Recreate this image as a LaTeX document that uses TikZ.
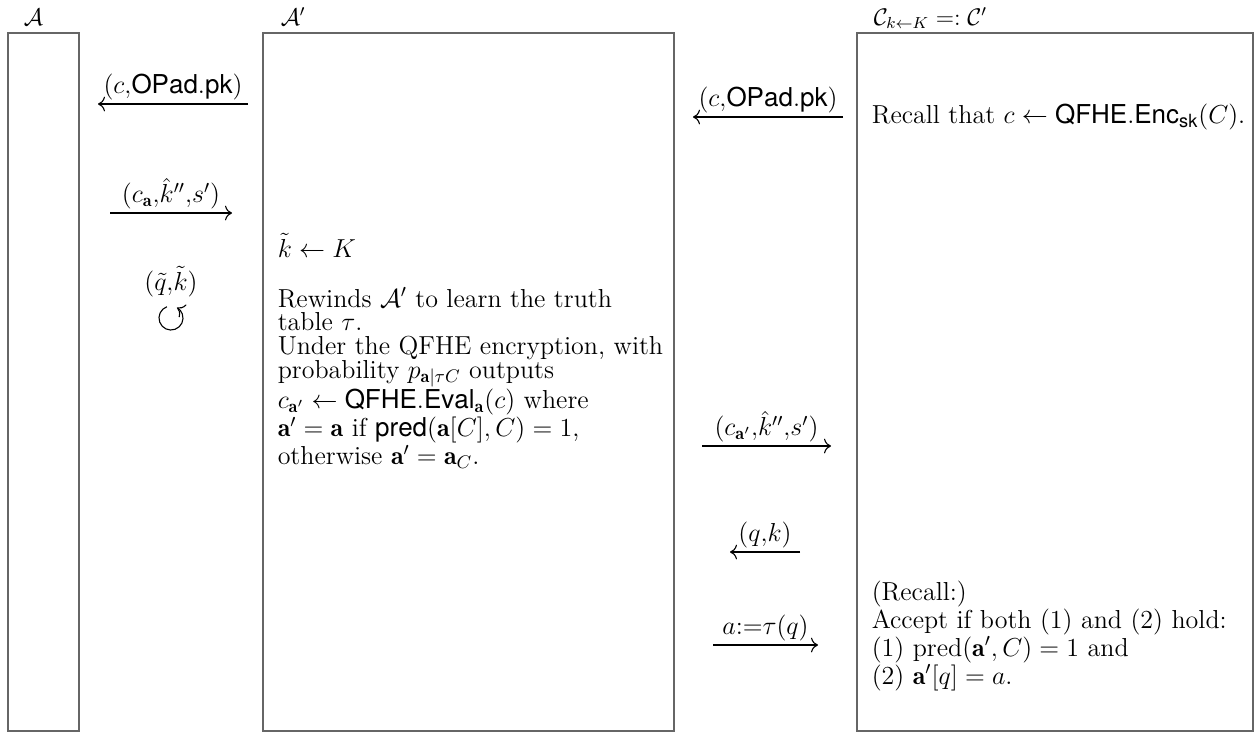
\RequirePackage{fix-cm}
\documentclass[tikz,border=0pt]{standalone}
\usepackage{amsmath,amssymb}
\usepackage{fontspec}
\setsansfont{TeX Gyre Heros}
\usetikzlibrary{arrows.meta}

\tikzset{every picture/.style={line width=0.75pt}}

\begin{document}
\begin{tikzpicture}[x=0.5pt,y=0.5pt,yscale=-1,xscale=1,
    every node/.style={font=\fontsize{13}{11.8}\selectfont},
    party/.style={draw=black!60, line width=0.6pt},
    hdr/.style={anchor=base west, inner sep=0pt, font=\fontsize{12}{12}\selectfont},
    msg/.style={-{Computer Modern Rightarrow[scale=1.25]}, line width=0.55pt},
    lbl/.style={above=0.5pt, inner sep=1pt},
    txt/.style={anchor=north west, inner sep=0pt, align=left}]
        \useasboundingbox (0,0) rectangle (1258,735);

        %Shape: Rectangle [party A]
        \draw [party] (8,33) rectangle (79,731) ;
        %Shape: Rectangle [party A']
        \draw [party] (263,33) rectangle (674,731) ;
        %Shape: Rectangle [party C']
        \draw [party] (857,33) rectangle (1253,731) ;

        % Text Node
        \node (advA) [hdr] at (23,25) {$\mathcal{A}$};
        % Text Node
        \node (advB) [hdr] at (280,25) {$\mathcal{A}'$};
        % Text Node
        \node (chal) [hdr] at (873,25) {$\mathcal{C}_{k\leftarrow K} =: \mathcal{C}'$};

        %Straight Lines [A <- A']
        \coordinate (mAs) at (248,104); \coordinate (mAe) at (98,104);
        \draw [msg] (mAs) -- node [lbl] {$(c{,}\mathsf{OPad.pk})$} (mAe) ;
        %Straight Lines [A -> A']
        \coordinate (mBs) at (110,213); \coordinate (mBe) at (232,213);
        \draw [msg] (mBs) -- node [lbl] {$(c_{\mathbf{a}}{,}\hat{k}''{,}s')$} (mBe) ;
        %Shape: Loop
        \coordinate (loopc) at (171,318);
        \draw [msg] ([shift={(-110:12)}]loopc) arc (-110:-420:12) ;
        \node (looplbl) [above=9pt, inner sep=1pt] at (loopc) {$(\tilde{q}{,}\tilde{k})$};

        %Straight Lines [A' <- C']
        \coordinate (mCs) at (843,117); \coordinate (mCe) at (693,117);
        \draw [msg] (mCs) -- node [lbl] {$(c{,}\mathsf{OPad.pk})$} (mCe) ;
        %Straight Lines [A' -> C']
        \coordinate (mDs) at (702,446); \coordinate (mDe) at (831,446);
        \draw [msg] (mDs) -- node [lbl] {$(c_{\mathbf{a}'}{,}\hat{k}''{,}s')$} (mDe) ;
        %Straight Lines [A' <- C']
        \coordinate (mEs) at (800,552); \coordinate (mEe) at (730,552);
        \draw [msg] (mEs) -- node [lbl] {$(q{,}k)$} (mEe) ;
        %Straight Lines [A' -> C']
        \coordinate (mFs) at (713,645); \coordinate (mFe) at (818,645);
        \draw [msg] (mFs) -- node [lbl] {$a{:=}\tau(q)$} (mFe) ;

        % Text Node
        \node (keyB) [anchor=base west, inner sep=0pt] at (277,257) {$\tilde{k} \leftarrow K$};
        % Text Node
        \node (stepB) [txt] at (277,287) {Rewinds $\mathcal{A}'$ to learn the truth\\
            table $\tau$.\\
            Under the QFHE encryption, with\\
            probability $p_{\mathbf{a}|\tau C}$ outputs\\
            $c_{\mathbf{a}'} \leftarrow \mathsf{QFHE.Eval}_{\mathbf{a}}(c)$ where\\
            $\mathbf{a}' = \mathbf{a}$ if $\mathsf{pred}(\mathbf{a}[C], C) = 1$,\\
            otherwise $\mathbf{a}' = \mathbf{a}_C$.};

        % Text Node
        \node (encC) [anchor=base west, inner sep=0pt] at (871,123) {Recall that $c \leftarrow \mathsf{QFHE.Enc}_{\mathsf{sk}}(C)$.};
        % Text Node
        \node (chkC) [txt] at (871,580) {(Recall:)\\
            Accept if both (1) and (2) hold:\\
            (1) $\mathrm{pred}(\mathbf{a}', C) = 1$ and\\
            (2) $\mathbf{a}'[q] = a$.};

\end{tikzpicture}
\end{document}
